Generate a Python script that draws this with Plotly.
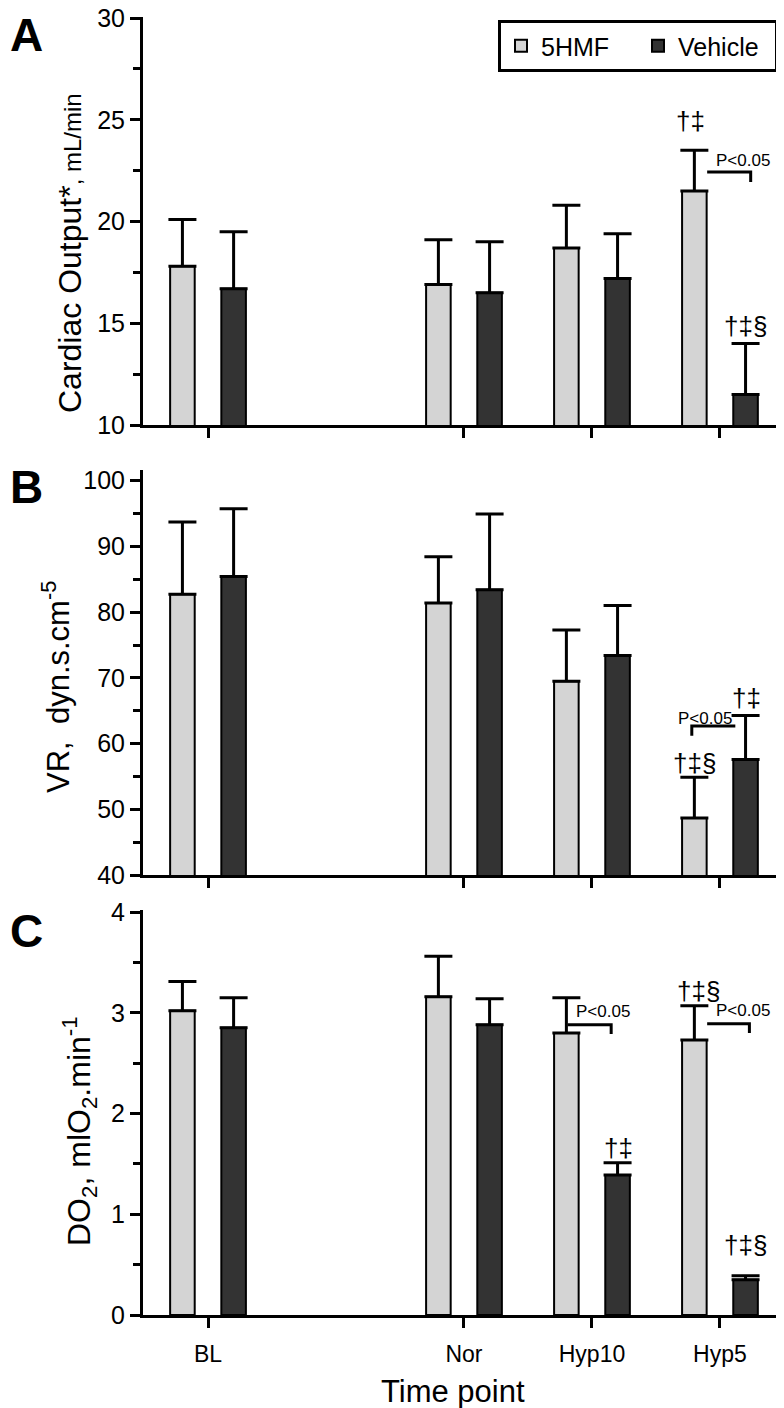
import plotly.graph_objects as go

# ---------------- data ----------------
categories = ["BL", "Nor", "Hyp10", "Hyp5"]
cat_pos = [0, 2, 3, 4]
series_names = ["5HMF", "Vehicle"]

co_5hmf = [17.8, 16.9, 18.7, 21.5]
co_5hmf_se = [2.3, 2.2, 2.1, 2.0]
co_veh = [16.7, 16.5, 17.2, 11.5]
co_veh_se = [2.8, 2.5, 2.2, 2.5]

vr_5hmf = [82.7, 81.4, 69.5, 48.7]
vr_5hmf_se = [11.0, 7.0, 7.8, 6.2]
vr_veh = [85.4, 83.4, 73.4, 57.6]
vr_veh_se = [10.3, 11.5, 7.6, 6.7]

do2_5hmf = [3.02, 3.16, 2.80, 2.73]
do2_5hmf_se = [0.29, 0.40, 0.35, 0.34]
do2_veh = [2.85, 2.88, 1.39, 0.35]
do2_veh_se = [0.30, 0.26, 0.12, 0.04]

# ---------------- styling ----------------
FONT = "Arial, 'Liberation Sans', sans-serif"
C_LIGHT = "#d4d4d4"
C_DARK = "#333333"
W, H = 784, 1408
ML, MR, MT, MB = 135, 6, 9, 101

fig = go.Figure()

panels = [
    ("x", "y", co_5hmf, co_5hmf_se, co_veh, co_veh_se),
    ("x2", "y2", vr_5hmf, vr_5hmf_se, vr_veh, vr_veh_se),
    ("x3", "y3", do2_5hmf, do2_5hmf_se, do2_veh, do2_veh_se),
]
for i, (xa, ya, m1, s1, m2, s2) in enumerate(panels):
    for name, m, s, col in [(series_names[0], m1, s1, C_LIGHT), (series_names[1], m2, s2, C_DARK)]:
        fig.add_trace(go.Bar(
            x=cat_pos, y=m, name=name, xaxis=xa, yaxis=ya,
            marker=dict(color=col, line=dict(color="black", width=2)),
            error_y=dict(type="data", symmetric=False, array=s, arrayminus=[0] * len(s),
                         color="black", thickness=3, width=14),
            showlegend=(i == 0), legendgroup=name,
        ))

def py(p):   # page pixel y -> paper
    return (H - MB - p) / (H - MT - MB)

def px(p):   # page pixel x -> paper
    return (p - ML) / (W - ML - MR)

xcommon = dict(range=[-0.508, 4.516], tickvals=cat_pos, ticktext=categories,
               showline=True, linecolor="black", linewidth=3, ticks="outside",
               ticklen=10, tickwidth=3, tickcolor="black", showgrid=False, zeroline=False,
               automargin=False, ticklabelstandoff=6,
               tickfont=dict(size=23, color="black", family=FONT))
ycommon = dict(showline=True, linecolor="black", linewidth=3, ticks="outside",
               ticklen=10, tickwidth=3, tickcolor="black", showgrid=False, zeroline=False,
               automargin=False, ticklabeloverflow="allow",
               tickfont=dict(size=25, color="black", family=FONT))

fig.update_layout(
    width=W, height=H,
    margin=dict(l=ML, r=MR, t=MT, b=MB),
    paper_bgcolor="white", plot_bgcolor="white",
    font=dict(family=FONT, color="black"),
    barmode="group", bargap=0.2, bargroupgap=0.52,
    xaxis=dict(**xcommon, anchor="y", showticklabels=False),
    xaxis2=dict(**xcommon, anchor="y2", showticklabels=False, matches="x"),
    xaxis3=dict(**xcommon, anchor="y3", showticklabels=True, matches="x"),
    yaxis=dict(**ycommon, anchor="x", domain=[py(417), 1.0], range=[10, 30.05],
               tickvals=[10, 15, 20, 25, 30],
               minor=dict(dtick=2.5, tick0=10, ticks="outside", ticklen=7, tickwidth=3, tickcolor="black")),
    yaxis2=dict(**ycommon, anchor="x2", domain=[py(867.3), py(462)], range=[40, 101.6],
                tickvals=[40, 50, 60, 70, 80, 90, 100],
                minor=dict(dtick=5, tick0=40, ticks="outside", ticklen=7, tickwidth=3, tickcolor="black")),
    yaxis3=dict(**ycommon, anchor="x3", domain=[0, py(902)], range=[0, 4.02],
                tickvals=[0, 1, 2, 3, 4],
                minor=dict(dtick=0.5, tick0=0, ticks="outside", ticklen=7, tickwidth=3, tickcolor="black")),
    legend=dict(orientation="h", x=px(770), xanchor="right",
                y=py(12), yanchor="top", bordercolor="black", borderwidth=3,
                bgcolor="white", font=dict(size=25, color="black", family=FONT),
                itemwidth=30, traceorder="normal", entrywidth=92, entrywidthmode="pixels"),
)

ann = []
# y-axis titles
ann.append(dict(text="Cardiac Output*<span style='font-size:24px'>, mL/min</span>",
                xref="paper", yref="paper", x=px(62), y=py(245),
                textangle=-90, showarrow=False, font=dict(size=32, color="black"),
                xanchor="center", yanchor="middle"))
ann.append(dict(text="VR,  dyn.s.cm<sup>-5</sup>",
                xref="paper", yref="paper", x=px(48), y=py(679),
                textangle=-90, showarrow=False, font=dict(size=31, color="black"),
                xanchor="center", yanchor="middle"))
ann.append(dict(text="DO<sub>2</sub>, mlO<sub>2</sub>.min<sup>-1</sup>",
                xref="paper", yref="paper", x=px(71), y=py(1123),
                textangle=-90, showarrow=False, font=dict(size=32, color="black"),
                xanchor="center", yanchor="middle"))
# x-axis title
ann.append(dict(text="Time point", xref="paper", yref="paper", x=px(445),
                y=py(1383), showarrow=False, font=dict(size=31, color="black"),
                xanchor="center", yanchor="middle"))
# panel letters
for lab, xx, yy in [("A", 18, 27), ("B", 18, 479), ("C", 18, 923)]:
    ann.append(dict(text="<b>%s</b>" % lab, xref="paper", yref="paper",
                    x=px(xx), y=py(yy), showarrow=False,
                    font=dict(size=46, color="black"), xanchor="center", yanchor="middle"))

# significance marks (panel axis refs, data coordinates)
sig = [
    ("x", "y", 3.77, 24.94, "†‡", 26),
    ("x", "y", 4.20, 14.86, "†‡§", 26),
    ("x", "y", 4.18, 23.0, "P<0.05", 17),
    ("x2", "y2", 3.80, 57.1, "†‡§", 26),
    ("x2", "y2", 4.21, 67.0, "†‡", 26),
    ("x2", "y2", 3.88, 63.9, "P<0.05", 17),
    ("x3", "y3", 3.09, 3.01, "P<0.05", 17),
    ("x3", "y3", 3.21, 1.66, "†‡", 26),
    ("x3", "y3", 3.83, 3.22, "†‡§", 26),
    ("x3", "y3", 4.18, 3.02, "P<0.05", 17),
    ("x3", "y3", 4.20, 0.69, "†‡§", 26),
]
for xr, yr, x, y, t, fs in sig:
    ann.append(dict(text=t, xref=xr, yref=yr, x=x, y=y, showarrow=False,
                    font=dict(size=fs, color="black"), xanchor="center", yanchor="middle"))
fig.update_layout(annotations=ann)

# brackets
brackets = [
    ("x", "y", "M 3.90 22.43 L 4.24 22.43 L 4.24 21.94"),
    ("x2", "y2", "M 3.78 61.2 L 3.78 62.7 L 4.12 62.7"),
    ("x3", "y3", "M 2.81 2.88 L 3.15 2.88 L 3.15 2.79"),
    ("x3", "y3", "M 3.90 2.89 L 4.23 2.89 L 4.23 2.80"),
]
for xr, yr, p in brackets:
    fig.add_shape(type="path", path=p, xref=xr, yref=yr, line=dict(color="black", width=3))

fig.write_html("out.html")
